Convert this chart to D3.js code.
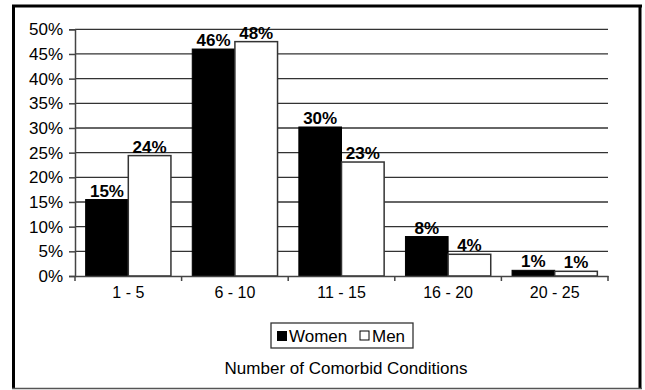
<!DOCTYPE html>
<html>
<head>
<meta charset="utf-8">
<script src="https://cdn.jsdelivr.net/npm/d3@7/dist/d3.min.js"></script>
<style>
html,body{margin:0;padding:0;background:#fff;}
svg{display:block;}
text{font-family:"Liberation Sans",Arial,Helvetica,sans-serif;}
</style>
</head>
<body>
<svg id="chart" width="645" height="390"></svg>
<script>
const categories = ["1 - 5", "6 - 10", "11 - 15", "16 - 20", "20 - 25"];
const women = [15.5, 46.0, 30.2, 8.0, 1.15];
const men = [24.4, 47.5, 23.1, 4.4, 0.95];
const womenLabels = ["15%", "46%", "30%", "8%", "1%"];
const menLabels = ["24%", "48%", "23%", "4%", "1%"];
const yTicks = [0, 5, 10, 15, 20, 25, 30, 35, 40, 45, 50];
const seriesNames = ["Women", "Men"];
const xTitle = "Number of Comorbid Conditions";

const svg = d3.select("#chart");
const plotLeft = 75, plotRight = 608, plotTop = 29.3, plotBottom = 276;

// outer frame
svg.append("line").attr("x1",13.5).attr("x2",13.5).attr("y1",5).attr("y2",389).attr("stroke","#000").attr("stroke-width",3);
svg.append("line").attr("x1",12).attr("x2",642).attr("y1",6).attr("y2",6).attr("stroke","#000").attr("stroke-width",3);
svg.append("line").attr("x1",640).attr("x2",640).attr("y1",5).attr("y2",389).attr("stroke","#000").attr("stroke-width",3);
svg.append("line").attr("x1",12).attr("x2",642).attr("y1",388.5).attr("y2",388.5).attr("stroke","#555").attr("stroke-width",1.5);

const x = d3.scaleBand().domain(categories).range([plotLeft, plotRight]).paddingInner(0.2).paddingOuter(0.1);
const x0 = d3.scaleBand().domain(categories).range([plotLeft, plotRight]);
const xs = d3.scaleBand().domain(seriesNames).range([0, x.bandwidth()]);
const y = d3.scaleLinear().domain([0, 50]).range([plotBottom, plotTop]);

// gridlines
svg.append("g").selectAll("line").data(yTicks.filter(d => d > 0)).join("line")
  .attr("x1", plotLeft).attr("x2", plotRight)
  .attr("y1", d => y(d)).attr("y2", d => y(d))
  .attr("stroke", "#333").attr("stroke-width", 1.3);

// y axis
const yAxis = d3.axisLeft(y).tickValues(yTicks).tickFormat(d => d + "%").tickSize(6).tickPadding(6);
const gy = svg.append("g").attr("transform", `translate(${plotLeft},0)`).call(yAxis);
gy.select(".domain").attr("stroke", "#444").attr("stroke-width", 1.5);
gy.selectAll(".tick line").attr("stroke", "#444").attr("stroke-width", 1.5);
gy.selectAll(".tick text").attr("font-size", 17).attr("fill", "#000")
  .style("font-family", '"Liberation Sans",Arial,sans-serif');

// bars
const data = categories.map((c, i) => ({c, w: women[i], m: men[i], wl: womenLabels[i], ml: menLabels[i]}));
const g = svg.append("g");
data.forEach(d => {
  const bx = x(d.c);
  g.append("rect").attr("x", bx + xs("Women")).attr("y", y(d.w))
    .attr("width", xs.bandwidth()).attr("height", y(0) - y(d.w))
    .attr("fill", "#000").attr("stroke", "#000").attr("stroke-width", 1);
  g.append("rect").attr("x", bx + xs("Men")).attr("y", y(d.m))
    .attr("width", xs.bandwidth()).attr("height", y(0) - y(d.m))
    .attr("fill", "#fff").attr("stroke", "#333").attr("stroke-width", 1.5);
  g.append("text").attr("x", bx + xs("Women") + xs.bandwidth()/2).attr("y", y(d.w) - 3)
    .attr("text-anchor", "middle").attr("font-size", 17).attr("font-weight", "bold").text(d.wl);
  g.append("text").attr("x", bx + xs("Men") + xs.bandwidth()/2).attr("y", y(d.m) - 3)
    .attr("text-anchor", "middle").attr("font-size", 17).attr("font-weight", "bold").text(d.ml);
});

// x axis
const xAxis = d3.axisBottom(x0).tickSize(0).tickPadding(11);
const gx = svg.append("g").attr("transform", `translate(0,${plotBottom})`).call(xAxis);
gx.select(".domain").attr("stroke", "#444").attr("stroke-width", 1.5);
gx.selectAll(".tick text").attr("font-size", 16).attr("fill", "#000")
  .style("font-family", '"Liberation Sans",Arial,sans-serif');
// boundary ticks
const bounds = categories.map(c => x0(c)).concat([plotRight]);
gx.append("g").selectAll("line").data(bounds).join("line")
  .attr("x1", d => d).attr("x2", d => d).attr("y1", 0).attr("y2", 5)
  .attr("stroke", "#444").attr("stroke-width", 1.5);

// legend
const lg = svg.append("g");
lg.append("rect").attr("x", 271).attr("y", 323).attr("width", 142).attr("height", 25)
  .attr("fill", "#fff").attr("stroke", "#333").attr("stroke-width", 1.3);
lg.append("rect").attr("x", 277).attr("y", 331).attr("width", 10).attr("height", 10).attr("fill", "#000");
lg.append("text").attr("x", 289).attr("y", 342).attr("font-size", 17).text(seriesNames[0]);
lg.append("rect").attr("x", 360).attr("y", 331).attr("width", 9).attr("height", 9)
  .attr("fill", "#fff").attr("stroke", "#000").attr("stroke-width", 1);
lg.append("text").attr("x", 372).attr("y", 342).attr("font-size", 17).text(seriesNames[1]);

// x title
svg.append("text").attr("x", 346).attr("y", 374).attr("text-anchor", "middle")
  .attr("font-size", 17).text(xTitle);
</script>
</body>
</html>
